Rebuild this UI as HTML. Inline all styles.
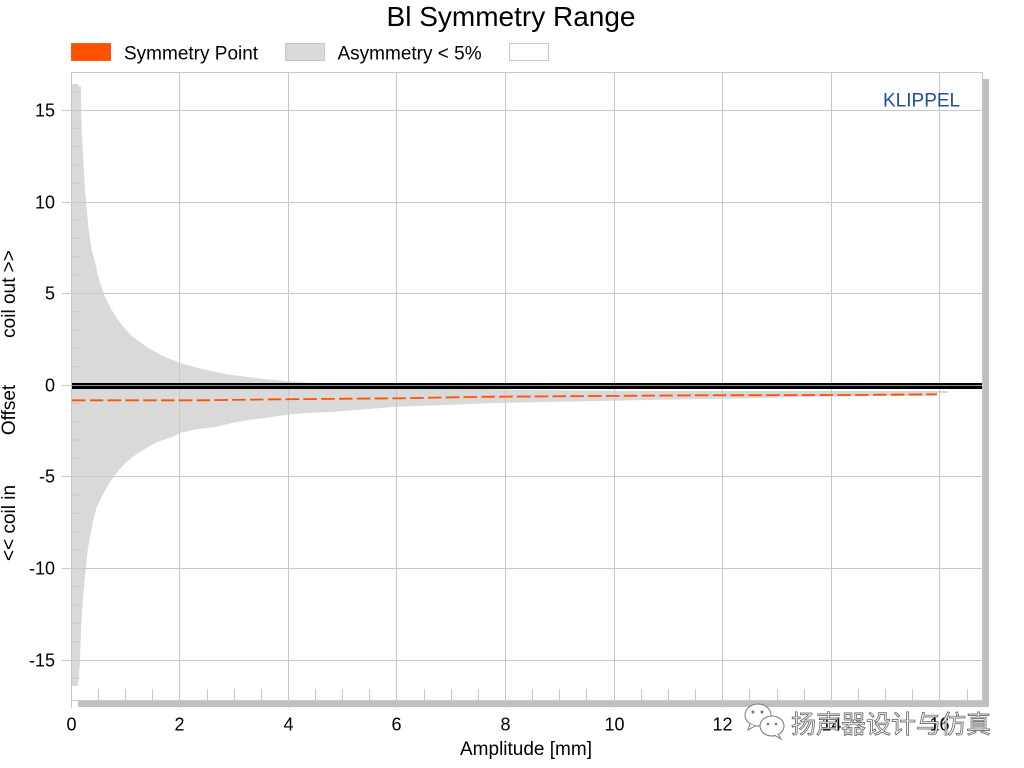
<!DOCTYPE html>
<html>
<head>
<meta charset="utf-8">
<style>
  html, body { margin: 0; padding: 0; background: #fff; }
  svg { display: block; }
  text { font-family: "Liberation Sans", Arial, sans-serif; }
</style>
</head>
<body>
<svg width="1024" height="768" viewBox="0 0 1024 768" xmlns="http://www.w3.org/2000/svg">
  <rect x="0" y="0" width="1024" height="768" fill="#ffffff"/>

  <!-- Title -->
  <text x="511" y="26" font-size="28" text-anchor="middle" fill="#000">Bl Symmetry Range</text>

  <!-- Legend -->
  <rect x="71.5" y="43.5" width="39" height="17" fill="#ff5200" stroke="#ff5a10" stroke-width="1"/>
  <text x="124" y="59.3" font-size="19" fill="#000">Symmetry Point</text>
  <rect x="285.5" y="43.5" width="39" height="17" fill="#d9d9d9" stroke="#c8c8c8" stroke-width="1"/>
  <text x="337.5" y="59.3" font-size="19" fill="#000">Asymmetry &lt; 5%</text>
  <rect x="509.5" y="43.5" width="39" height="17" fill="#ffffff" stroke="#c8c8c8" stroke-width="1"/>

  <!-- Shadows -->
  <rect x="983" y="79" width="6" height="628" fill="#c0c0c0"/>
  <rect x="78" y="701" width="911" height="6" fill="#c0c0c0"/>

  <!-- Asymmetry band -->
  <polygon fill="#d9d9d9" points="
    71,84 78,84 78,85.5 81,86.7 81,100 81.7,130 83.3,158 85,190 86.7,207 88.3,227 91.7,250 95,262 98.3,277
    105,297 111.7,310 121.7,325 131.7,336 148.3,348 165,357 180,363 198,368 215,372 232,375 248,377 265,379
    285,381 298,382 320,383.5 380,386 440,388.5 480,389 520,390 680,391 948,391 948,393 935,393
    935,396 893,396 808,396.8 773,397.8 693,399.3 673,399.5 585,401.3 533,402.3 493,403 447,405 397,406.8
    330,412 305,413 285,415 265,418 248,420 232,423 215,427 198,429 180,433 172,437 155,443 138,453 125,463
    115,475 108,485 101.7,497 96.7,507 93.3,520 90,537 87.7,550 86,567 84.3,583 82.7,603 81,630 80,663
    78,684 78,686 71,686"/>

  <!-- Horizontal gridlines (with left major ticks) -->
  <g stroke="#c8c8c8" stroke-width="1">
    <line x1="62" y1="110.5" x2="982" y2="110.5"/>
    <line x1="62" y1="202.5" x2="982" y2="202.5"/>
    <line x1="62" y1="293.5" x2="982" y2="293.5"/>
    <line x1="62" y1="385.5" x2="982" y2="385.5"/>
    <line x1="62" y1="476.5" x2="982" y2="476.5"/>
    <line x1="62" y1="568.5" x2="982" y2="568.5"/>
    <line x1="62" y1="660.5" x2="982" y2="660.5"/>
  </g>

  <!-- Left minor ticks (every 1 unit) -->
  <g stroke="#c8c8c8" stroke-width="1">
    <line x1="71" y1="91.7" x2="80" y2="91.7"/>
    <line x1="71" y1="128.3" x2="80" y2="128.3"/>
    <line x1="71" y1="146.7" x2="80" y2="146.7"/>
    <line x1="71" y1="165" x2="80" y2="165"/>
    <line x1="71" y1="183.3" x2="80" y2="183.3"/>
    <line x1="71" y1="220" x2="80" y2="220"/>
    <line x1="71" y1="238.3" x2="80" y2="238.3"/>
    <line x1="71" y1="256.7" x2="80" y2="256.7"/>
    <line x1="71" y1="275" x2="80" y2="275"/>
    <line x1="71" y1="311.7" x2="80" y2="311.7"/>
    <line x1="71" y1="330" x2="80" y2="330"/>
    <line x1="71" y1="348.3" x2="80" y2="348.3"/>
    <line x1="71" y1="366.7" x2="80" y2="366.7"/>
    <line x1="71" y1="403.3" x2="80" y2="403.3"/>
    <line x1="71" y1="421.7" x2="80" y2="421.7"/>
    <line x1="71" y1="440" x2="80" y2="440"/>
    <line x1="71" y1="458.3" x2="80" y2="458.3"/>
    <line x1="71" y1="495" x2="80" y2="495"/>
    <line x1="71" y1="513.3" x2="80" y2="513.3"/>
    <line x1="71" y1="531.7" x2="80" y2="531.7"/>
    <line x1="71" y1="550" x2="80" y2="550"/>
    <line x1="71" y1="586.7" x2="80" y2="586.7"/>
    <line x1="71" y1="605" x2="80" y2="605"/>
    <line x1="71" y1="623.3" x2="80" y2="623.3"/>
    <line x1="71" y1="641.7" x2="80" y2="641.7"/>
    <line x1="71" y1="678.3" x2="80" y2="678.3"/>
  </g>

  <!-- Bottom minor ticks (every 0.5 unit) -->
  <g stroke="#c8c8c8" stroke-width="1">
    <line x1="98.5" y1="689" x2="98.5" y2="700"/>
    <line x1="125.5" y1="689" x2="125.5" y2="700"/>
    <line x1="152.5" y1="689" x2="152.5" y2="700"/>
    <line x1="207.5" y1="689" x2="207.5" y2="700"/>
    <line x1="234.5" y1="689" x2="234.5" y2="700"/>
    <line x1="261.5" y1="689" x2="261.5" y2="700"/>
    <line x1="315.5" y1="689" x2="315.5" y2="700"/>
    <line x1="342.5" y1="689" x2="342.5" y2="700"/>
    <line x1="369.5" y1="689" x2="369.5" y2="700"/>
    <line x1="424.5" y1="689" x2="424.5" y2="700"/>
    <line x1="451.5" y1="689" x2="451.5" y2="700"/>
    <line x1="478.5" y1="689" x2="478.5" y2="700"/>
    <line x1="532.5" y1="689" x2="532.5" y2="700"/>
    <line x1="559.5" y1="689" x2="559.5" y2="700"/>
    <line x1="586.5" y1="689" x2="586.5" y2="700"/>
    <line x1="641.5" y1="689" x2="641.5" y2="700"/>
    <line x1="668.5" y1="689" x2="668.5" y2="700"/>
    <line x1="695.5" y1="689" x2="695.5" y2="700"/>
    <line x1="749.5" y1="689" x2="749.5" y2="700"/>
    <line x1="777.5" y1="689" x2="777.5" y2="700"/>
    <line x1="804.5" y1="689" x2="804.5" y2="700"/>
    <line x1="858.5" y1="689" x2="858.5" y2="700"/>
    <line x1="885.5" y1="689" x2="885.5" y2="700"/>
    <line x1="912.5" y1="689" x2="912.5" y2="700"/>
    <line x1="967.5" y1="689" x2="967.5" y2="700"/>
  </g>

  <!-- Plot frame -->
  <rect x="71.5" y="72.5" width="911" height="628" fill="none" stroke="#c8c8c8" stroke-width="1"/>

  <!-- Vertical gridlines -->
  <g stroke="#c8c8c8" stroke-width="1">
    <line x1="71.5" y1="72" x2="71.5" y2="708"/>
    <line x1="179.5" y1="72" x2="179.5" y2="708"/>
    <line x1="288.5" y1="72" x2="288.5" y2="708"/>
    <line x1="396.5" y1="72" x2="396.5" y2="708"/>
    <line x1="505.5" y1="72" x2="505.5" y2="708"/>
    <line x1="614.5" y1="72" x2="614.5" y2="708"/>
    <line x1="722.5" y1="72" x2="722.5" y2="708"/>
    <line x1="831.5" y1="72" x2="831.5" y2="708"/>
    <line x1="939.5" y1="72" x2="939.5" y2="708"/>
  </g>

  <!-- Zero (double black) line -->
  <rect x="72" y="383" width="910" height="2.3" fill="#000"/>
  <rect x="72" y="386" width="910" height="3" fill="#000"/>

  <!-- Symmetry point dashed line -->
  <polyline fill="none" stroke="#ff5200" stroke-width="1.8" stroke-dasharray="13.5 4.3"
    points="72,400.3 200,400.3 280,399.3 400,398.3 480,396.8 600,396 700,395.3 850,395 937,394.3"/>

  <!-- KLIPPEL -->
  <text x="883" y="106.7" font-size="19" fill="#1e4fa0">KLIPPEL</text>

  <!-- Y tick labels -->
  <g font-size="18" fill="#000" text-anchor="end">
    <text x="55" y="116.5">15</text>
    <text x="55" y="208.5">10</text>
    <text x="55" y="299.5">5</text>
    <text x="55" y="391.5">0</text>
    <text x="55" y="482.5">-5</text>
    <text x="55" y="574.5">-10</text>
    <text x="55" y="666.5">-15</text>
  </g>

  <!-- X tick labels -->
  <g font-size="18" fill="#000" text-anchor="middle">
    <text x="71.5" y="730.7">0</text>
    <text x="179.5" y="730.7">2</text>
    <text x="288.5" y="730.7">4</text>
    <text x="396.5" y="730.7">6</text>
    <text x="505.5" y="730.7">8</text>
    <text x="614.5" y="730.7">10</text>
    <text x="722.5" y="730.7">12</text>
    <text x="831.5" y="730.7">14</text>
    <text x="939.5" y="730.7">16</text>
  </g>

  <!-- X axis title -->
  <text x="526" y="755" font-size="19" fill="#000" text-anchor="middle">Amplitude [mm]</text>

  <!-- Y axis titles (rotated) -->
  <g font-size="19" fill="#000" text-anchor="middle">
    <text transform="translate(15,294) rotate(-90)">coil out &gt;&gt;</text>
    <text transform="translate(15,410) rotate(-90)">Offset</text>
    <text transform="translate(15,523) rotate(-90)">&lt;&lt; coil in</text>
  </g>

  <!-- Watermark -->
  <g>
    <ellipse cx="758" cy="715" rx="13" ry="11" fill="#ffffff" stroke="#777" stroke-width="1"/>
    <path d="M750,724 L748,730 L755,726" fill="#fff" stroke="#777" stroke-width="1"/>
    <ellipse cx="772" cy="726" rx="12" ry="10" fill="#ffffff" stroke="#777" stroke-width="1"/>
    <path d="M778,734 L781,739 L774,735" fill="#fff" stroke="#777" stroke-width="1"/>
    <circle cx="753" cy="712" r="1.5" fill="#777"/>
    <circle cx="762" cy="712" r="1.5" fill="#777"/>
    <circle cx="768" cy="724" r="1.3" fill="#777"/>
    <circle cx="776" cy="724" r="1.3" fill="#777"/>
    <text x="791" y="733" font-size="25" font-family="'Liberation Sans','Noto Sans CJK SC',sans-serif"
      fill="#f6f6f6" stroke="#555" stroke-width="0.7">扬声器设计与仿真</text>
  </g>
</svg>
</body>
</html>
